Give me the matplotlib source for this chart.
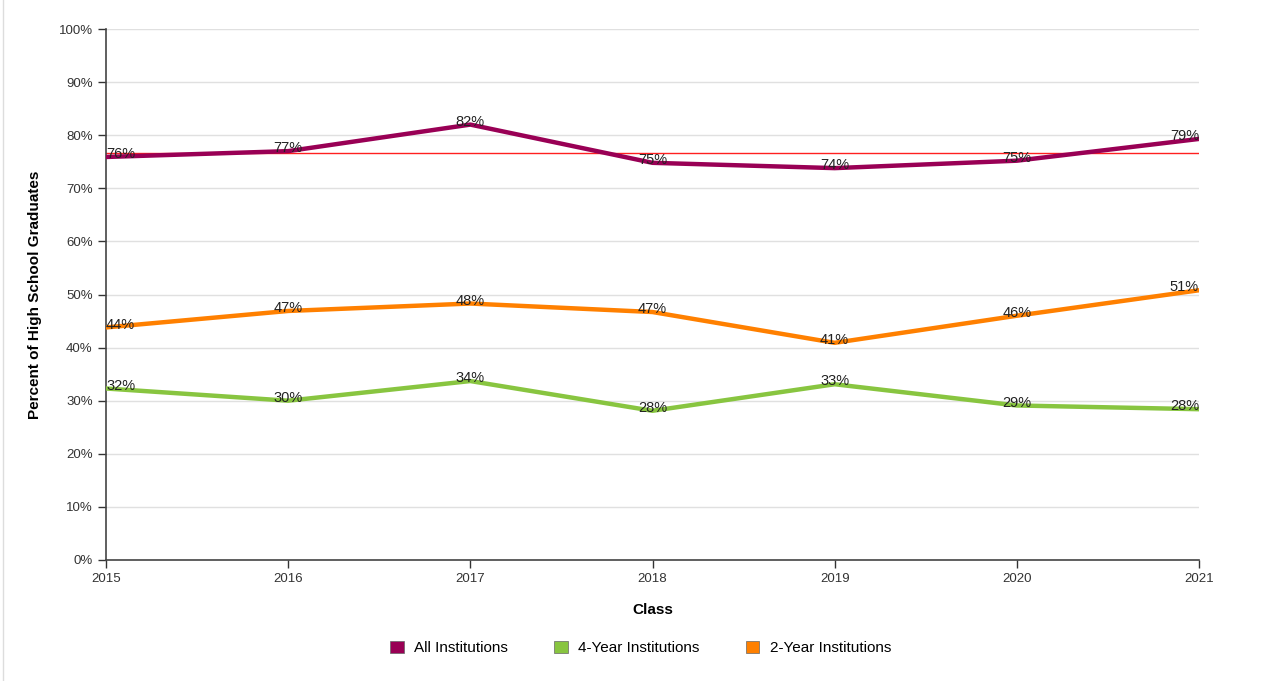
import matplotlib.pyplot as plt
from matplotlib.lines import Line2D
from matplotlib.patches import Patch

plt.rcParams['font.family'] = ['Liberation Sans', 'DejaVu Sans']

years = [2015, 2016, 2017, 2018, 2019, 2020, 2021]
all_inst = [75.9, 77.0, 82.0, 74.8, 73.8, 75.2, 79.3]
four_year = [32.3, 30.0, 33.7, 28.1, 33.1, 29.1, 28.4]
two_year = [43.8, 46.9, 48.3, 46.7, 40.9, 46.0, 50.8]
avg_line = 76.6

series = [
    ("All Institutions", all_inst, "#990055"),
    ("4-Year Institutions", four_year, "#88c540"),
    ("2-Year Institutions", two_year, "#ff8000"),
]

fig = plt.figure(figsize=(12.61, 6.81), dpi=100)
ax = fig.add_axes([106 / 1261, 1 - 560 / 681, (1199 - 106) / 1261, (560 - 29) / 681])

# red reference line
ax.axhline(avg_line, color="#ff2020", lw=1.0, zorder=2)

for name, vals, col in series:
    ax.plot(years, vals, color=col, lw=3.2, zorder=3)
    for i, (x, v) in enumerate(zip(years, vals)):
        ha = "center"
        if i == 0:
            ha = "left"
        elif i == len(years) - 1:
            ha = "right"
        ax.annotate(f"{round(v):.0f}%", (x, v), xytext=(0, -3), textcoords="offset points",
                    ha=ha, va="bottom", fontsize=10.5, color="#222222", zorder=4)

ax.set_xlim(2015, 2021)
ax.set_ylim(0, 100)
ax.set_xticks(years)
ax.set_yticks(range(0, 101, 10))
ax.set_yticklabels([f"{t}%" for t in range(0, 101, 10)])
ax.tick_params(axis="both", labelsize=9.5, colors="#333333", length=6, width=1)
ax.grid(axis="y", color="#e0e0e0", lw=1)
ax.set_axisbelow(True)
for s in ["top", "right"]:
    ax.spines[s].set_visible(False)
for s in ["left", "bottom"]:
    ax.spines[s].set_color("#444444")
    ax.spines[s].set_linewidth(1.2)

ax.set_xlabel("Class", fontsize=11, fontweight="bold", labelpad=13)
ax.set_ylabel("Percent of High School Graduates", fontsize=11, fontweight="bold", labelpad=12)

handles = [Patch(facecolor=c, edgecolor="#666666", lw=0.5, label=n) for n, _, c in series]
fig.legend(handles=handles, loc="center", bbox_to_anchor=(0.508, 1 - 648 / 681), ncol=3,
           frameon=False, fontsize=11, handlelength=0.9, handleheight=0.9,
           columnspacing=3.0, handletextpad=0.7)

fig.add_artist(Line2D([3 / 1261, 3 / 1261], [0, 1], color="#dddddd", lw=1))

fig.savefig("out.png", dpi=100)
